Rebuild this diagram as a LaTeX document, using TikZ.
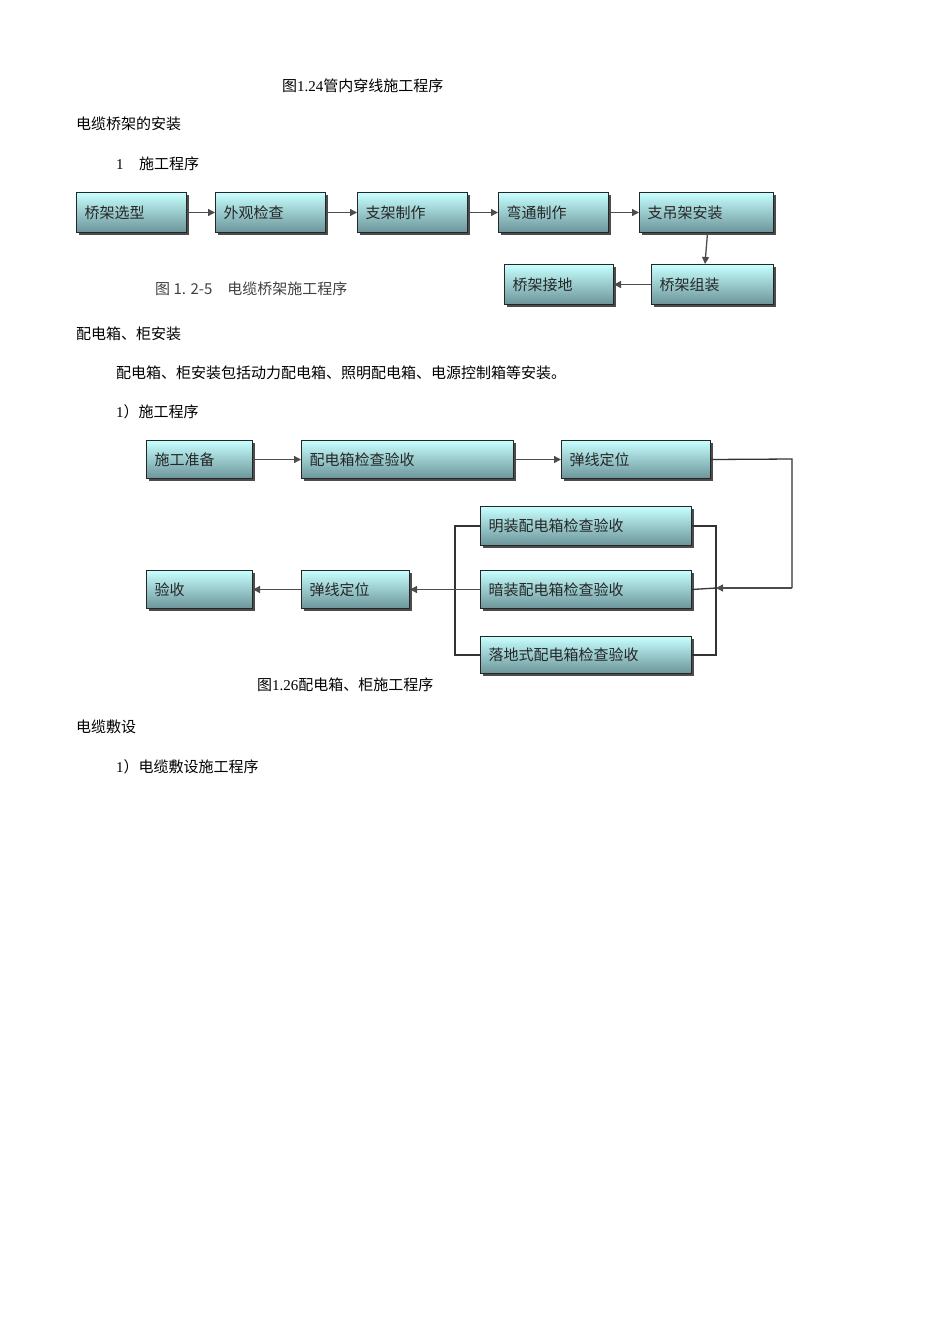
\documentclass[tikz,border=0pt]{standalone}
\usepackage{fontspec}
\setmainfont{Liberation Serif}
\newfontfamily\cjk{Noto Sans CJK SC}
\usetikzlibrary{arrows.meta}
\begin{document}
\begin{tikzpicture}[x=1pt,y=-1pt,
  bx/.style={draw=black!85,line width=1pt,top color={rgb,1:red,0.78;green,1;blue,1},bottom color={rgb,1:red,0.42;green,0.58;blue,0.6},
    font=\cjk\fontsize{15}{15}\selectfont,anchor=north west,inner sep=0pt,align=left,text=black!85},
  txt/.style={anchor=west,font=\cjk\fontsize{15}{15}\selectfont,inner sep=0pt},
  ar/.style={-{Triangle[length=7pt,width=7pt]},line width=1.3pt,black!70},
  ln/.style={line width=1.3pt,black!80}]
\useasboundingbox (0,0) rectangle (950,1344);
\newcommand{\bxx}[6]{\fill[black!70] (#2+3,#3+3) rectangle (#4+3,#5+3);
  \node[bx,minimum width=#4-#2,minimum height=#5-#3,text width=#4-#2-16] (#1) at (#2,#3) {\hspace*{0pt}#6};}
% texts
\node[txt] (t1) at (282,86) {图{\rmfamily 1.24}管内穿线施工程序};
\node[txt] (t2) at (76,124) {电缆桥架的安装};
\node[txt] (t3) at (116,164) {{\rmfamily 1 ）}施工程序};
\node[txt] (t4) at (76,334) {配电箱、柜安装};
\node[txt] (t5) at (116,373) {配电箱、柜安装包括动力配电箱、照明配电箱、电源控制箱等安装。};
\node[txt] (t6) at (116,412) {{\rmfamily 1}）施工程序};
\node[txt] (t7) at (257,685) {图{\rmfamily 1.26}配电箱、柜施工程序};
\node[txt] (t8) at (76,727) {电缆敷设};
\node[txt] (t9) at (116,767) {{\rmfamily 1}）电缆敷设施工程序};
\node[txt,text=black!75] (cap) at (155,289) {图 1. 2-5\quad 电缆桥架施工程序};
% flow 1
\bxx{a1}{76}{192}{186}{232}{桥架选型}
\bxx{a2}{215}{192}{325}{232}{外观检查}
\bxx{a3}{357}{192}{467}{232}{支架制作}
\bxx{a4}{498}{192}{608}{232}{弯通制作}
\bxx{a5}{639}{192}{773}{232}{支吊架安装}
\bxx{a6}{651}{264}{773}{304}{桥架组装}
\bxx{a7}{504}{264}{613}{304}{桥架接地}
\draw[ar] (a1) -- (a2); \draw[ar] (a2) -- (a3); \draw[ar] (a3) -- (a4); \draw[ar] (a4) -- (a5);
\draw[ar] (a5.south)++(1,0) coordinate (s5) (s5) -- (a6.north -| 705,0);
\draw[ar] (a6) -- (a7);
% flow 2
\bxx{b1}{146}{440}{252}{478}{施工准备}
\bxx{b2}{301}{440}{513}{478}{配电箱检查验收}
\bxx{b3}{561}{440}{710}{478}{弹线定位}
\bxx{c1}{480}{506}{691}{545}{明装配电箱检查验收}
\bxx{c2}{480}{570}{691}{608}{暗装配电箱检查验收}
\bxx{c3}{480}{636}{691}{673}{落地式配电箱检查验收}
\bxx{b4}{301}{570}{409}{608}{弹线定位}
\bxx{b5}{146}{570}{252}{608}{验收}
\draw[ar] (b1) -- (b2); \draw[ar] (b2) -- (b3);
\coordinate (r1) at (792,459); \coordinate (r2) at (792,588); \coordinate (m) at (716,588);
\draw[ln] (b3.east) -- (r1) -- (r2);
\draw[ar] (r2) -- (m);
\draw[ln] (c1.east) -- (716,526) -- (716,655) -- (c3.east);
\draw[ln] (c2.east) -- (m);
\draw[ln] (c1.west) -- (455,526) -- (455,655) -- (c3.west);
\draw[ar] (c2.west) -- (b4.east);
\draw[ar] (b4) -- (b5);
\end{tikzpicture}
\end{document}
